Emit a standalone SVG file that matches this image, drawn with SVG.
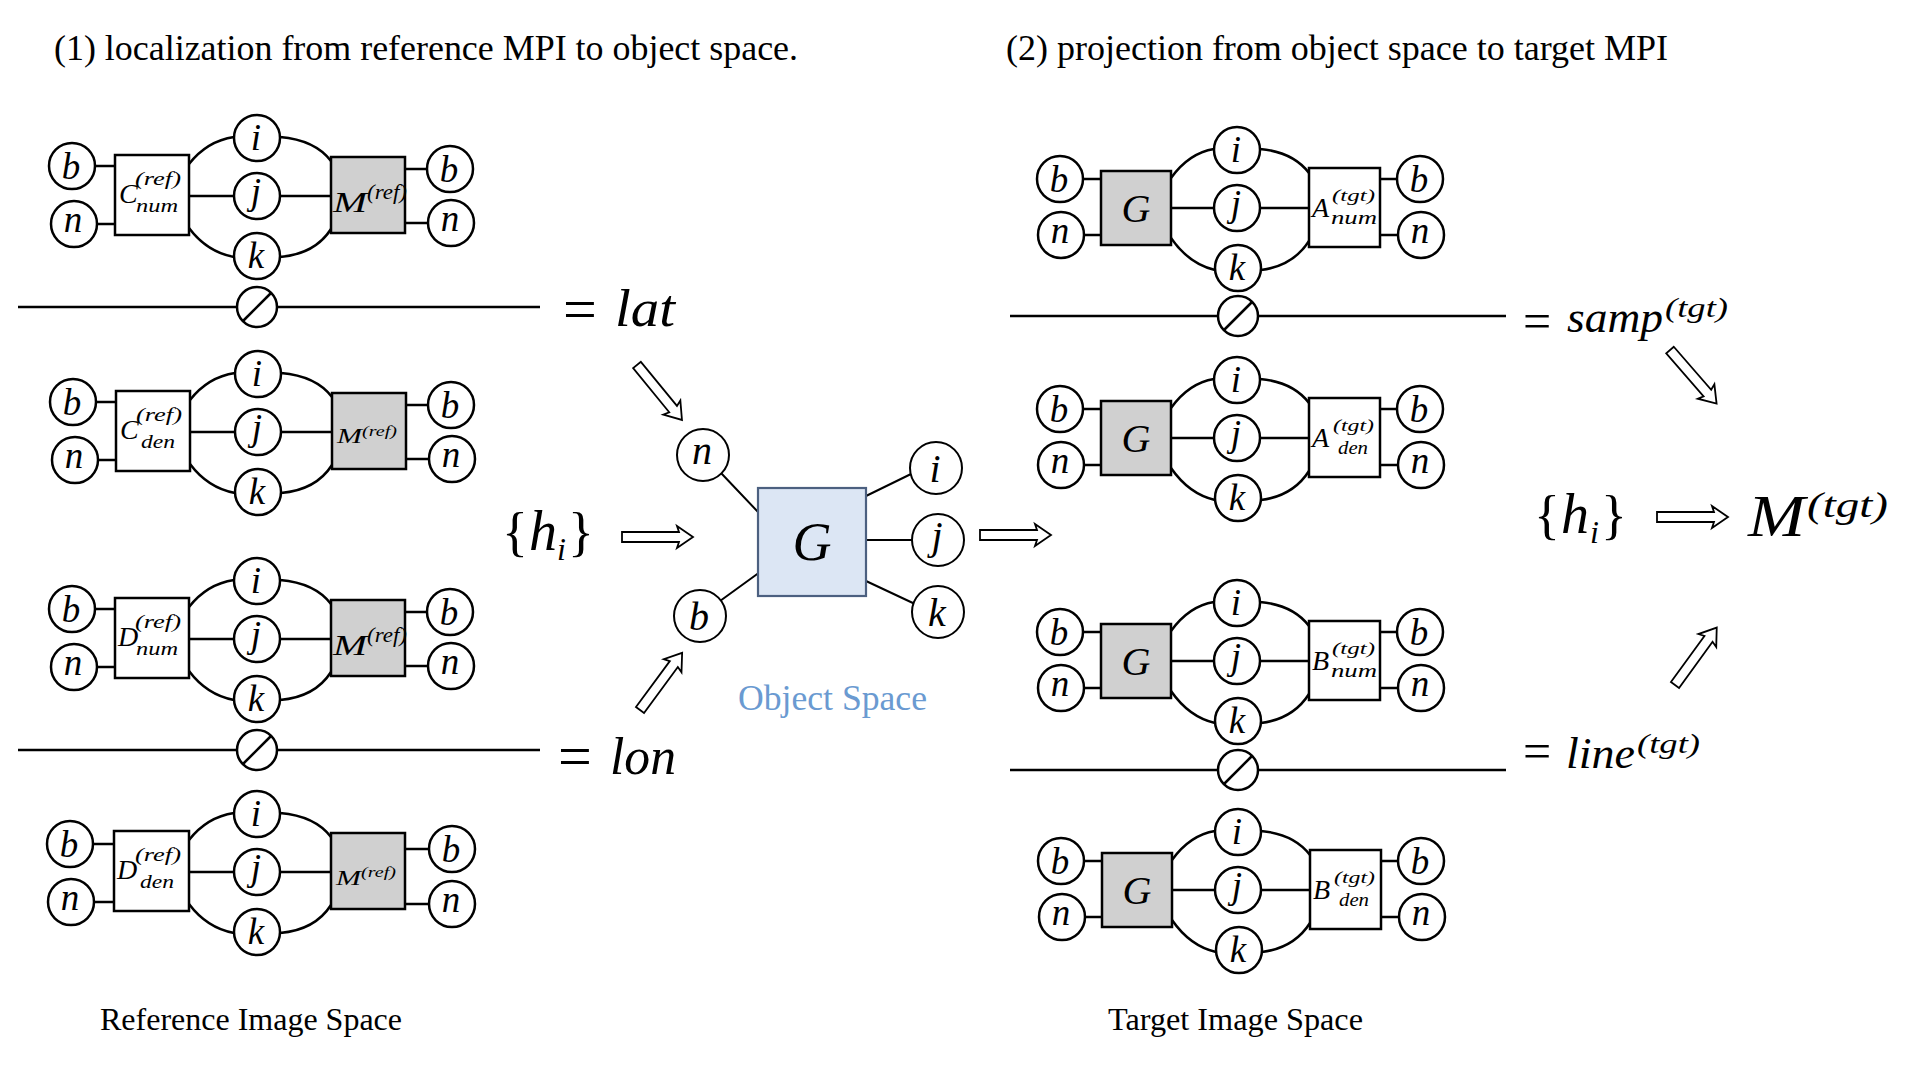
<svg xmlns="http://www.w3.org/2000/svg" width="1920" height="1080" viewBox="0 0 1920 1080">
<style>
.ln{stroke:#000;stroke-width:2.5;fill:none}
.thin{stroke:#000;stroke-width:2;fill:none}
.nd{fill:#fff;stroke:#000;stroke-width:2.5}
.bx{fill:#fff;stroke:#000;stroke-width:2.5}
.gb{fill:#d0d0d0;stroke:#000;stroke-width:2.5}
.ar{fill:#fff;stroke:#000;stroke-width:1.8;stroke-linejoin:miter}
.m{font-family:"Liberation Serif","Times New Roman",serif;font-style:italic;fill:#000}
.r{font-family:"Liberation Serif","Times New Roman",serif;fill:#000}
.lt{font-size:37px;text-anchor:middle}
.lc{font-size:40px;text-anchor:middle}
</style>
<defs>
<path id="harrow" d="M0,-5 L57,-5 L55,-11 L71,0 L55,11 L57,5 L0,5 Z"/>
</defs>
<rect width="1920" height="1080" fill="#fff"/>

<!-- titles -->
<text class="r" font-size="36" x="54" y="60" textLength="744" lengthAdjust="spacingAndGlyphs">(1) localization from reference MPI to object space.</text>
<text class="r" font-size="36" x="1006" y="60" textLength="662" lengthAdjust="spacingAndGlyphs">(2) projection from object space to target MPI</text>
<text class="r" font-size="32" x="100" y="1030" textLength="302" lengthAdjust="spacingAndGlyphs">Reference Image Space</text>
<text class="r" font-size="32" x="1108" y="1030" textLength="255" lengthAdjust="spacingAndGlyphs">Target Image Space</text>

<!-- connectors -->
<g id="connectors">
<g class="ln" transform="translate(257,196)"><path d="M-162,-30H-142M-160,28H-142M-68,0H-23M23,0H74M148,-27H170M148,27H171M-68,-32Q-50,-55 -23,-59M23,-59Q58,-56 74,-35M-68,32Q-50,56 -23,61M23,61Q58,58 74,33"/></g>
<g class="ln" transform="translate(258,432)"><path d="M-162,-30H-142M-160,28H-142M-68,0H-23M23,0H74M148,-27H170M148,27H171M-68,-32Q-50,-55 -23,-59M23,-59Q58,-56 74,-35M-68,32Q-50,56 -23,61M23,61Q58,58 74,33"/></g>
<g class="ln" transform="translate(257,639)"><path d="M-162,-30H-142M-160,28H-142M-68,0H-23M23,0H74M148,-27H170M148,27H171M-68,-32Q-50,-55 -23,-59M23,-59Q58,-56 74,-35M-68,32Q-50,56 -23,61M23,61Q58,58 74,33"/></g>
<g class="ln" transform="translate(257,872)"><path d="M-164,-28H-143M-163,30H-143M-68,0H-23M23,0H74M148,-23H172M148,32H172M-68,-32Q-50,-55 -23,-59M23,-59Q58,-56 74,-35M-68,32Q-50,56 -23,61M23,61Q58,58 74,33"/></g>
<g class="ln" transform="translate(1237,208)"><path d="M-154,-29H-136M-153,27H-136M-66,0H-23M23,0H72M143,-29H160M143,27H161M-66,-30Q-48,-55 -23,-59M23,-59Q56,-56 72,-35M-66,30Q-48,56 -22,62M24,62Q56,58 72,33"/></g>
<g class="ln" transform="translate(1237,438)"><path d="M-154,-29H-136M-153,27H-136M-66,0H-23M23,0H72M143,-29H160M143,27H161M-66,-30Q-48,-55 -23,-59M23,-59Q56,-56 72,-35M-66,30Q-48,56 -22,62M24,62Q56,58 72,33"/></g>
<g class="ln" transform="translate(1237,661)"><path d="M-154,-29H-136M-153,27H-136M-66,0H-23M23,0H72M143,-29H160M143,27H161M-66,-30Q-48,-55 -23,-59M23,-59Q56,-56 72,-35M-66,30Q-48,56 -22,62M24,62Q56,58 72,33"/></g>
<g class="ln" transform="translate(1238,890)"><path d="M-154,-29H-136M-153,27H-136M-66,0H-23M23,0H72M143,-29H160M143,27H161M-66,-30Q-48,-55 -23,-59M23,-59Q56,-56 72,-35M-66,30Q-48,56 -22,62M24,62Q56,58 72,33"/></g>
<path class="ln" d="M18,307H540M18,750H540M1010,316H1506M1010,770H1506"/>
<path class="thin" d="M721,473L759,513M720,601L760,572M866,496L911,474M866,540H912M866,581L915,604"/>
</g>

<!-- separators -->
<g id="sep-L1"><circle class="nd" cx="257" cy="307" r="20"/><path class="ln" d="M243,321L271,293"/></g>
<g id="sep-L2"><circle class="nd" cx="257" cy="750" r="20"/><path class="ln" d="M243,764L271,736"/></g>
<g id="sep-R1"><circle class="nd" cx="1238" cy="316" r="20"/><path class="ln" d="M1224,330L1252,302"/></g>
<g id="sep-R2"><circle class="nd" cx="1238" cy="770" r="20"/><path class="ln" d="M1224,784L1252,756"/></g>

<!-- left block 1 -->
<g id="L1" transform="translate(257,196)">
<g id="L1-b"><circle class="nd" cx="-185" cy="-30" r="23"/><text class="m lt" x="-186" y="-17">b</text></g>
<g id="L1-n"><circle class="nd" cx="-183" cy="28" r="23"/><text class="m lt" x="-184" y="36">n</text></g>
<g id="L1-C"><rect class="bx" x="-142" y="-41" width="74" height="80"/><text class="m" font-size="28" x="-138" y="7">C</text><text class="m" font-size="19" x="-122" y="-11" textLength="46" lengthAdjust="spacingAndGlyphs">(ref)</text><text class="m" font-size="19" x="-121" y="16" textLength="42" lengthAdjust="spacingAndGlyphs">num</text></g>
<g id="L1-i"><circle class="nd" cx="0" cy="-58" r="23"/><text class="m lt" x="-1" y="-46">i</text></g>
<g id="L1-j"><circle class="nd" cx="0" cy="0" r="23"/><text class="m lt" x="-1" y="8">j</text></g>
<g id="L1-k"><circle class="nd" cx="0" cy="60" r="23"/><text class="m lt" x="-1" y="72">k</text></g>
<g id="L1-M"><rect class="gb" x="74" y="-39" width="74" height="76"/><text class="m" font-size="30" x="76" y="16" textLength="34" lengthAdjust="spacingAndGlyphs">M</text><text class="m" font-size="20" x="110" y="3" textLength="40" lengthAdjust="spacingAndGlyphs">(ref)</text></g>
<g id="L1-b2"><circle class="nd" cx="193" cy="-27" r="23"/><text class="m lt" x="192" y="-14">b</text></g>
<g id="L1-n2"><circle class="nd" cx="194" cy="27" r="23"/><text class="m lt" x="193" y="35">n</text></g>
</g>

<!-- left block 2 -->
<g id="L2" transform="translate(258,432)">
<g id="L2-b"><circle class="nd" cx="-185" cy="-30" r="23"/><text class="m lt" x="-186" y="-17">b</text></g>
<g id="L2-n"><circle class="nd" cx="-183" cy="28" r="23"/><text class="m lt" x="-184" y="36">n</text></g>
<g id="L2-C"><rect class="bx" x="-142" y="-41" width="74" height="80"/><text class="m" font-size="28" x="-138" y="7">C</text><text class="m" font-size="19" x="-122" y="-11" textLength="46" lengthAdjust="spacingAndGlyphs">(ref)</text><text class="m" font-size="19" x="-117" y="16" textLength="34" lengthAdjust="spacingAndGlyphs">den</text></g>
<g id="L2-i"><circle class="nd" cx="0" cy="-58" r="23"/><text class="m lt" x="-1" y="-46">i</text></g>
<g id="L2-j"><circle class="nd" cx="0" cy="0" r="23"/><text class="m lt" x="-1" y="8">j</text></g>
<g id="L2-k"><circle class="nd" cx="0" cy="60" r="23"/><text class="m lt" x="-1" y="72">k</text></g>
<g id="L2-M"><rect class="gb" x="74" y="-39" width="74" height="76"/><text class="m" font-size="22" x="79" y="11" textLength="25" lengthAdjust="spacingAndGlyphs">M</text><text class="m" font-size="15" x="104" y="4" textLength="35" lengthAdjust="spacingAndGlyphs">(ref)</text></g>
<g id="L2-b2"><circle class="nd" cx="193" cy="-27" r="23"/><text class="m lt" x="192" y="-14">b</text></g>
<g id="L2-n2"><circle class="nd" cx="194" cy="27" r="23"/><text class="m lt" x="193" y="35">n</text></g>
</g>

<!-- left block 3 -->
<g id="L3" transform="translate(257,639)">
<g id="L3-b"><circle class="nd" cx="-185" cy="-30" r="23"/><text class="m lt" x="-186" y="-17">b</text></g>
<g id="L3-n"><circle class="nd" cx="-183" cy="28" r="23"/><text class="m lt" x="-184" y="36">n</text></g>
<g id="L3-D"><rect class="bx" x="-142" y="-41" width="74" height="80"/><text class="m" font-size="28" x="-139" y="7">D</text><text class="m" font-size="19" x="-122" y="-11" textLength="46" lengthAdjust="spacingAndGlyphs">(ref)</text><text class="m" font-size="19" x="-121" y="16" textLength="42" lengthAdjust="spacingAndGlyphs">num</text></g>
<g id="L3-i"><circle class="nd" cx="0" cy="-58" r="23"/><text class="m lt" x="-1" y="-46">i</text></g>
<g id="L3-j"><circle class="nd" cx="0" cy="0" r="23"/><text class="m lt" x="-1" y="8">j</text></g>
<g id="L3-k"><circle class="nd" cx="0" cy="60" r="23"/><text class="m lt" x="-1" y="72">k</text></g>
<g id="L3-M"><rect class="gb" x="74" y="-39" width="74" height="76"/><text class="m" font-size="30" x="76" y="16" textLength="34" lengthAdjust="spacingAndGlyphs">M</text><text class="m" font-size="20" x="110" y="3" textLength="40" lengthAdjust="spacingAndGlyphs">(ref)</text></g>
<g id="L3-b2"><circle class="nd" cx="193" cy="-27" r="23"/><text class="m lt" x="192" y="-14">b</text></g>
<g id="L3-n2"><circle class="nd" cx="194" cy="27" r="23"/><text class="m lt" x="193" y="35">n</text></g>
</g>

<!-- left block 4 -->
<g id="L4" transform="translate(257,872)">
<g id="L4-b"><circle class="nd" cx="-187" cy="-28" r="23"/><text class="m lt" x="-188" y="-15">b</text></g>
<g id="L4-n"><circle class="nd" cx="-186" cy="30" r="23"/><text class="m lt" x="-187" y="38">n</text></g>
<g id="L4-D"><rect class="bx" x="-143" y="-41" width="75" height="80"/><text class="m" font-size="28" x="-140" y="7">D</text><text class="m" font-size="19" x="-122" y="-11" textLength="46" lengthAdjust="spacingAndGlyphs">(ref)</text><text class="m" font-size="19" x="-117" y="16" textLength="34" lengthAdjust="spacingAndGlyphs">den</text></g>
<g id="L4-i"><circle class="nd" cx="0" cy="-58" r="23"/><text class="m lt" x="-1" y="-46">i</text></g>
<g id="L4-j"><circle class="nd" cx="0" cy="0" r="23"/><text class="m lt" x="-1" y="8">j</text></g>
<g id="L4-k"><circle class="nd" cx="0" cy="60" r="23"/><text class="m lt" x="-1" y="72">k</text></g>
<g id="L4-M"><rect class="gb" x="74" y="-39" width="74" height="76"/><text class="m" font-size="22" x="79" y="13" textLength="25" lengthAdjust="spacingAndGlyphs">M</text><text class="m" font-size="15" x="104" y="5" textLength="35" lengthAdjust="spacingAndGlyphs">(ref)</text></g>
<g id="L4-b2"><circle class="nd" cx="195" cy="-23" r="23"/><text class="m lt" x="194" y="-10">b</text></g>
<g id="L4-n2"><circle class="nd" cx="195" cy="32" r="23"/><text class="m lt" x="194" y="40">n</text></g>
</g>

<!-- right block 1 -->
<g id="R1" transform="translate(1237,208)">
<g id="R1-b"><circle class="nd" cx="-177" cy="-29" r="23"/><text class="m lt" x="-178" y="-16">b</text></g>
<g id="R1-n"><circle class="nd" cx="-176" cy="27" r="23"/><text class="m lt" x="-177" y="35">n</text></g>
<g id="R1-G"><rect class="gb" x="-136" y="-37" width="70" height="74"/><text class="m" font-size="40" text-anchor="middle" x="-101" y="14">G</text></g>
<g id="R1-i"><circle class="nd" cx="0" cy="-58" r="23"/><text class="m lt" x="-1" y="-46">i</text></g>
<g id="R1-j"><circle class="nd" cx="0" cy="0" r="23"/><text class="m lt" x="-1" y="8">j</text></g>
<g id="R1-k"><circle class="nd" cx="1" cy="60" r="23"/><text class="m lt" x="0" y="72">k</text></g>
<g id="R1-A"><rect class="bx" x="72" y="-40" width="71" height="79"/><text class="m" font-size="28" x="75" y="9">A</text><text class="m" font-size="17" x="95" y="-7" textLength="43" lengthAdjust="spacingAndGlyphs">(tgt)</text><text class="m" font-size="19" x="94" y="16" textLength="46" lengthAdjust="spacingAndGlyphs">num</text></g>
<g id="R1-b2"><circle class="nd" cx="183" cy="-29" r="23"/><text class="m lt" x="182" y="-16">b</text></g>
<g id="R1-n2"><circle class="nd" cx="184" cy="27" r="23"/><text class="m lt" x="183" y="35">n</text></g>
</g>

<!-- right block 2 -->
<g id="R2" transform="translate(1237,438)">
<g id="R2-b"><circle class="nd" cx="-177" cy="-29" r="23"/><text class="m lt" x="-178" y="-16">b</text></g>
<g id="R2-n"><circle class="nd" cx="-176" cy="27" r="23"/><text class="m lt" x="-177" y="35">n</text></g>
<g id="R2-G"><rect class="gb" x="-136" y="-37" width="70" height="74"/><text class="m" font-size="40" text-anchor="middle" x="-101" y="14">G</text></g>
<g id="R2-i"><circle class="nd" cx="0" cy="-58" r="23"/><text class="m lt" x="-1" y="-46">i</text></g>
<g id="R2-j"><circle class="nd" cx="0" cy="0" r="23"/><text class="m lt" x="-1" y="8">j</text></g>
<g id="R2-k"><circle class="nd" cx="1" cy="60" r="23"/><text class="m lt" x="0" y="72">k</text></g>
<g id="R2-A"><rect class="bx" x="72" y="-40" width="71" height="79"/><text class="m" font-size="28" x="75" y="9">A</text><text class="m" font-size="17" x="96" y="-7" textLength="41" lengthAdjust="spacingAndGlyphs">(tgt)</text><text class="m" font-size="19" x="101" y="16" textLength="30" lengthAdjust="spacingAndGlyphs">den</text></g>
<g id="R2-b2"><circle class="nd" cx="183" cy="-29" r="23"/><text class="m lt" x="182" y="-16">b</text></g>
<g id="R2-n2"><circle class="nd" cx="184" cy="27" r="23"/><text class="m lt" x="183" y="35">n</text></g>
</g>

<!-- right block 3 -->
<g id="R3" transform="translate(1237,661)">
<g id="R3-b"><circle class="nd" cx="-177" cy="-29" r="23"/><text class="m lt" x="-178" y="-16">b</text></g>
<g id="R3-n"><circle class="nd" cx="-176" cy="27" r="23"/><text class="m lt" x="-177" y="35">n</text></g>
<g id="R3-G"><rect class="gb" x="-136" y="-37" width="70" height="74"/><text class="m" font-size="40" text-anchor="middle" x="-101" y="14">G</text></g>
<g id="R3-i"><circle class="nd" cx="0" cy="-58" r="23"/><text class="m lt" x="-1" y="-46">i</text></g>
<g id="R3-j"><circle class="nd" cx="0" cy="0" r="23"/><text class="m lt" x="-1" y="8">j</text></g>
<g id="R3-k"><circle class="nd" cx="1" cy="60" r="23"/><text class="m lt" x="0" y="72">k</text></g>
<g id="R3-B"><rect class="bx" x="72" y="-40" width="71" height="79"/><text class="m" font-size="28" x="75" y="9">B</text><text class="m" font-size="17" x="95" y="-7" textLength="43" lengthAdjust="spacingAndGlyphs">(tgt)</text><text class="m" font-size="19" x="94" y="16" textLength="46" lengthAdjust="spacingAndGlyphs">num</text></g>
<g id="R3-b2"><circle class="nd" cx="183" cy="-29" r="23"/><text class="m lt" x="182" y="-16">b</text></g>
<g id="R3-n2"><circle class="nd" cx="184" cy="27" r="23"/><text class="m lt" x="183" y="35">n</text></g>
</g>

<!-- right block 4 -->
<g id="R4" transform="translate(1238,890)">
<g id="R4-b"><circle class="nd" cx="-177" cy="-29" r="23"/><text class="m lt" x="-178" y="-16">b</text></g>
<g id="R4-n"><circle class="nd" cx="-176" cy="27" r="23"/><text class="m lt" x="-177" y="35">n</text></g>
<g id="R4-G"><rect class="gb" x="-136" y="-37" width="70" height="74"/><text class="m" font-size="40" text-anchor="middle" x="-101" y="14">G</text></g>
<g id="R4-i"><circle class="nd" cx="0" cy="-58" r="23"/><text class="m lt" x="-1" y="-46">i</text></g>
<g id="R4-j"><circle class="nd" cx="0" cy="0" r="23"/><text class="m lt" x="-1" y="8">j</text></g>
<g id="R4-k"><circle class="nd" cx="1" cy="60" r="23"/><text class="m lt" x="0" y="72">k</text></g>
<g id="R4-B"><rect class="bx" x="72" y="-40" width="71" height="79"/><text class="m" font-size="28" x="75" y="9">B</text><text class="m" font-size="17" x="96" y="-7" textLength="41" lengthAdjust="spacingAndGlyphs">(tgt)</text><text class="m" font-size="19" x="101" y="16" textLength="30" lengthAdjust="spacingAndGlyphs">den</text></g>
<g id="R4-b2"><circle class="nd" cx="183" cy="-29" r="23"/><text class="m lt" x="182" y="-16">b</text></g>
<g id="R4-n2"><circle class="nd" cx="184" cy="27" r="23"/><text class="m lt" x="183" y="35">n</text></g>
</g>

<!-- object space -->
<g id="obj-G"><rect x="758" y="488" width="108" height="108" fill="#dce6f4" stroke="#4c6080" stroke-width="2.2"/><text class="m" font-size="54" text-anchor="middle" x="812" y="560">G</text></g>
<g id="obj-n"><circle cx="703" cy="455" r="26" fill="#fff" stroke="#000" stroke-width="2"/><text class="m lc" x="702" y="464">n</text></g>
<g id="obj-b"><circle cx="700" cy="616" r="26" fill="#fff" stroke="#000" stroke-width="2"/><text class="m lc" x="699" y="630">b</text></g>
<g id="obj-i"><circle cx="936" cy="468" r="26" fill="#fff" stroke="#000" stroke-width="2"/><text class="m lc" x="935" y="482">i</text></g>
<g id="obj-j"><circle cx="938" cy="540" r="26" fill="#fff" stroke="#000" stroke-width="2"/><text class="m lc" x="937" y="549">j</text></g>
<g id="obj-k"><circle cx="938" cy="612" r="26" fill="#fff" stroke="#000" stroke-width="2"/><text class="m lc" x="937" y="626">k</text></g>
<text class="r" font-size="36" x="738" y="710" style="fill:#6a9ad1" textLength="189" lengthAdjust="spacingAndGlyphs">Object Space</text>

<!-- hollow arrows -->
<g id="arrows" class="ar">
<use href="#harrow" transform="translate(622,537)"/>
<use href="#harrow" transform="translate(980,535)"/>
<use href="#harrow" transform="translate(1657,517)"/>
<use href="#harrow" transform="translate(637,365) rotate(50.7)"/>
<use href="#harrow" transform="translate(640,710) rotate(-53.6)"/>
<use href="#harrow" transform="translate(1670,350) rotate(49)"/>
<use href="#harrow" transform="translate(1675,685) rotate(-54)"/>
</g>

<!-- equations -->
<g id="eq-lat"><text class="r" font-size="60" x="563" y="329">=</text><text class="m" font-size="52" x="615" y="326" textLength="60" lengthAdjust="spacingAndGlyphs">lat</text></g>
<g id="eq-lon"><text class="r" font-size="60" x="558" y="776">=</text><text class="m" font-size="52" x="610" y="774" textLength="66" lengthAdjust="spacingAndGlyphs">lon</text></g>
<g id="hi-left"><text class="r" font-size="54" x="502" y="550">{</text><text class="m" font-size="56" x="529" y="550">h</text><text class="m" font-size="32" x="557" y="560">i</text><text class="r" font-size="54" x="568" y="550">}</text></g>
<g id="eq-samp"><text class="r" font-size="50" x="1523" y="338">=</text><text class="m" font-size="44" x="1567" y="332" textLength="96" lengthAdjust="spacingAndGlyphs">samp</text><text class="m" font-size="28" x="1665" y="317" textLength="63" lengthAdjust="spacingAndGlyphs">(tgt)</text></g>
<g id="eq-line"><text class="r" font-size="50" x="1523" y="768">=</text><text class="m" font-size="44" x="1566" y="768" textLength="69" lengthAdjust="spacingAndGlyphs">line</text><text class="m" font-size="28" x="1637" y="753" textLength="63" lengthAdjust="spacingAndGlyphs">(tgt)</text></g>
<g id="hi-right"><text class="r" font-size="54" x="1534" y="533">{</text><text class="m" font-size="56" x="1561" y="533">h</text><text class="m" font-size="32" x="1590" y="543">i</text><text class="r" font-size="54" x="1601" y="533">}</text></g>
<g id="M-tgt"><text class="m" font-size="60" x="1748" y="536" textLength="57" lengthAdjust="spacingAndGlyphs">M</text><text class="m" font-size="36" x="1807" y="517" textLength="81" lengthAdjust="spacingAndGlyphs">(tgt)</text></g>
</svg>
